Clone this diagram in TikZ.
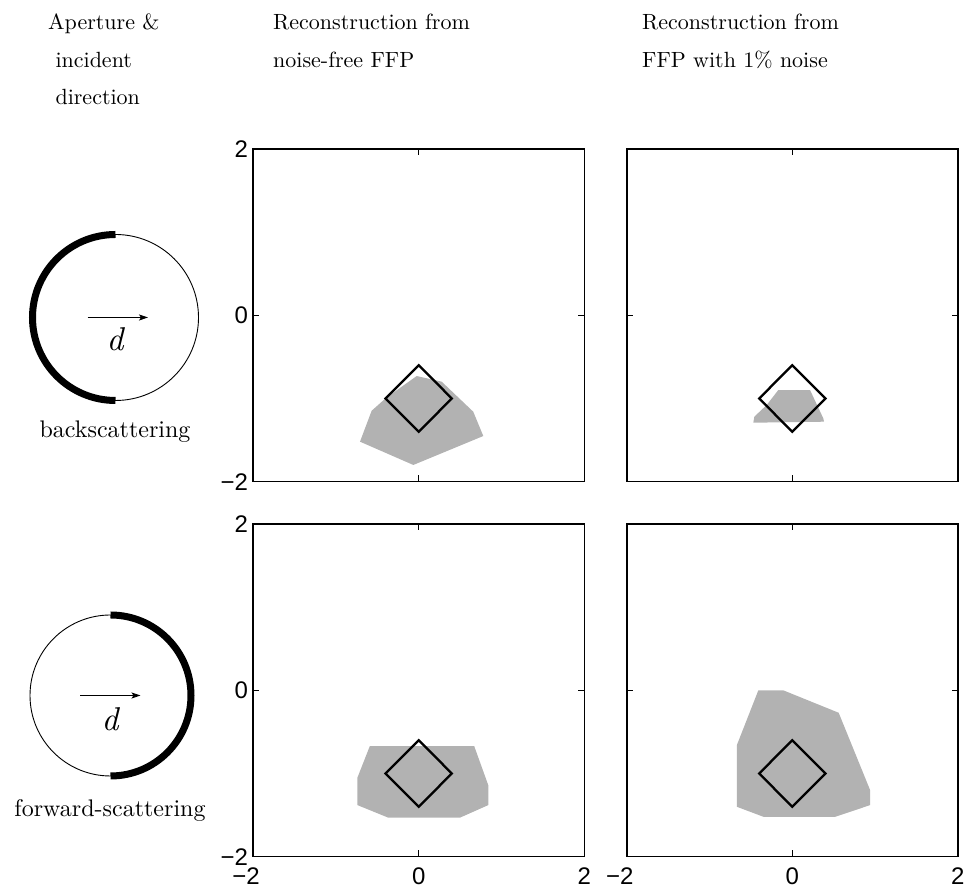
\documentclass[tikz,border=0pt]{standalone}
\usepackage{fontspec}
\setmainfont{lmroman10-regular.otf}[ItalicFont=lmroman10-italic.otf, BoldFont=lmroman10-bold.otf]
\newfontfamily\axfont{Liberation Sans}
\usetikzlibrary{arrows.meta}
\definecolor{regiongray}{gray}{0.7}
\tikzset{
 axbox/.style={line width=1.6pt},
 tk/.style={line width=1.2pt},
 diam/.style={line width=2.3pt, line join=miter},
 region/.style={fill=regiongray, draw=none},
 ticklab/.style={font=\axfont\fontsize{24}{28}\selectfont, inner sep=0pt},
 head/.style={font=\fontsize{22}{38}\selectfont, anchor=base west, inner sep=0pt},
 caplab/.style={font=\fontsize{24}{28}\selectfont, inner sep=0pt},
 dlab/.style={font=\fontsize{33}{36}\selectfont\itshape, inner sep=0pt},
 thinring/.style={line width=0.9pt},
 thickarc/.style={line width=7pt},
 dirarrow/.style={line width=0.9pt, -{Stealth[length=9pt,width=6pt,inset=2pt]}},
}
\newcommand\drawaxesframe{%
 \draw[axbox] (-2,-2) rectangle (2,2);
 \foreach \t in {-2,0,2}{
  \draw[tk] (\t,-2) -- ++(0,0.075);
  \draw[tk] (\t,2) -- ++(0,-0.075);
  \draw[tk] (-2,\t) -- ++(0.075,0);
  \draw[tk] (2,\t) -- ++(-0.075,0);
 }}
\newcommand\drawdiamondobj{%
 \draw[diam] (0,-0.6) -- (0.4,-1) -- (0,-1.4) -- (-0.4,-1) -- cycle;}

\begin{document}
\begin{tikzpicture}[x=1pt,y=1pt]
\useasboundingbox (0,0) rectangle (967,890);

% headers
\node[head] (h1a) at (48,860) {Aperture \&};
\node[head] (h1b) at (48,822) {\ incident};
\node[head] (h1c) at (48,785) {\ direction};
\node[head] (h2a) at (273,860) {Reconstruction from};
\node[head] (h2b) at (273,822) {noise-free FFP};
\node[head] (h3a) at (642,860) {Reconstruction from};
\node[head] (h3b) at (642,822) {FFP with 1\% noise};

% aperture: backscattering
\coordinate (c1) at (115.5,572.5);
\draw[thinring] (c1) circle[radius=83];
\draw[thickarc] ([shift={(90:83)}]c1) arc[start angle=90, end angle=270, radius=83];
\coordinate (a1s) at (87.7,572.5);
\coordinate (a1e) at (148,572.5);
\draw[dirarrow] (a1s) -- (a1e);
\node[dlab] (d1) at (115,551) {d};
\node[caplab] (bs) at (115,458) {backscattering};

% aperture: forward-scattering
\coordinate (c2) at (110.5,194.5);
\draw[thinring] (c2) circle[radius=80.5];
\draw[thickarc] ([shift={(-90:80.5)}]c2) arc[start angle=-90, end angle=90, radius=80.5];
\coordinate (a2s) at (80,194.5);
\coordinate (a2e) at (140.5,194.5);
\draw[dirarrow] (a2s) -- (a2e);
\node[dlab] (d2) at (110,171) {d};
\node[caplab] (fs) at (110,79) {forward-scattering};

% top-left panel
\begin{scope}[shift={(418.7,574.7)}, x=82.8pt, y=83.2pt]
 \fill[region] (-0.386,-0.986) -- (-0.568,-1.147) -- (-0.709,-1.519) -- (-0.065,-1.799)
   -- (0.780,-1.451) -- (0.659,-1.159) -- (0.278,-0.798) -- (-0.024,-0.730) -- cycle;
 \drawdiamondobj
 \drawaxesframe
 \node[ticklab, anchor=east] (tly2) at (-2.06,2) {2};
 \node[ticklab, anchor=east] (tly0) at (-2.06,0) {0};
 \node[ticklab, anchor=east] (tlym) at (-2.06,-2) {−2};
\end{scope}

% top-right panel
\begin{scope}[shift={(792.3,574.7)}, x=82.8pt, y=83.2pt]
 \fill[region] (-0.169,-0.898) -- (0.214,-0.898) -- (0.374,-1.238) -- (0.383,-1.279)
   -- (-0.471,-1.291) -- (-0.459,-1.219) -- (-0.309,-1.078) -- cycle;
 \drawdiamondobj
 \drawaxesframe
\end{scope}

% bottom-left panel
\begin{scope}[shift={(418.7,199.7)}, x=82.8pt, y=83.2pt]
 \fill[region] (-0.59,-0.67) -- (0.67,-0.67) -- (0.84,-1.14) -- (0.84,-1.38) -- (0.50,-1.53)
   -- (-0.37,-1.53) -- (-0.74,-1.38) -- (-0.74,-1.05) -- cycle;
 \drawdiamondobj
 \drawaxesframe
 \node[ticklab, anchor=east] (bly2) at (-2.06,2) {2};
 \node[ticklab, anchor=east] (bly0) at (-2.06,0) {0};
 \node[ticklab, anchor=east] (blym) at (-2.06,-2) {−2};
 \node[ticklab, anchor=north] (blxm) at ([xshift=-7pt]-2,-2.13) {−2};
 \node[ticklab, anchor=north] (blx0) at (0,-2.13) {0};
 \node[ticklab, anchor=north] (blx2) at (2,-2.13) {2};
\end{scope}

% bottom-right panel
\begin{scope}[shift={(792.3,199.7)}, x=82.8pt, y=83.2pt]
 \fill[region] (-0.41,0.0) -- (-0.11,0.0) -- (0.56,-0.27) -- (0.94,-1.2) -- (0.94,-1.38)
   -- (0.52,-1.52) -- (-0.35,-1.52) -- (-0.67,-1.40) -- (-0.67,-0.66) -- cycle;
 \drawdiamondobj
 \drawaxesframe
 \node[ticklab, anchor=north] (brxm) at ([xshift=-7pt]-2,-2.13) {−2};
 \node[ticklab, anchor=north] (brx0) at (0,-2.13) {0};
 \node[ticklab, anchor=north] (brx2) at (2,-2.13) {2};
\end{scope}
\end{tikzpicture}
\end{document}
